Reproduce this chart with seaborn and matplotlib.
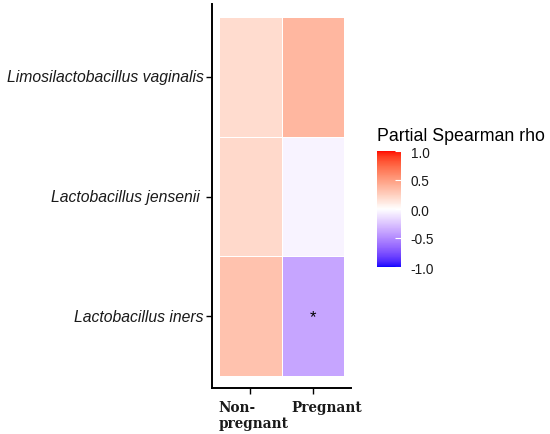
import numpy as np
import pandas as pd
import matplotlib
matplotlib.use('Agg')
import matplotlib.pyplot as plt
import matplotlib.transforms as mtransforms
from matplotlib.colors import ListedColormap
from matplotlib.ticker import FormatStrFormatter
import seaborn as sns

plt.rcParams['font.family'] = ['Liberation Sans', 'DejaVu Sans']
plt.rcParams['axes.unicode_minus'] = False

# data
species = ['Limosilactobacillus vaginalis', 'Lactobacillus jensenii ', 'Lactobacillus iners']
groups = ['Non-\npregnant', 'Pregnant']
rho_nonpregnant = [0.18, 0.20, 0.32]
rho_pregnant = [0.37, -0.05, -0.39]
sig_nonpregnant = ['', '', '']
sig_pregnant = ['', '', '*']
cbar_ticks = [-1.0, -0.5, 0.0, 0.5, 1.0]

df = pd.DataFrame({groups[0]: rho_nonpregnant, groups[1]: rho_pregnant}, index=species)
stars = pd.DataFrame({groups[0]: sig_nonpregnant, groups[1]: sig_pregnant}, index=species)


# blue - white - red gradient interpolated in CIELAB (like ggplot's gradient2)
def srgb_to_lab(rgb):
    rgb = np.asarray(rgb, dtype=float)
    lin = np.where(rgb <= 0.04045, rgb / 12.92, ((rgb + 0.055) / 1.055) ** 2.4)
    m = np.array([[0.4124, 0.3576, 0.1805],
                  [0.2126, 0.7152, 0.0722],
                  [0.0193, 0.1192, 0.9505]])
    xyz = m @ lin / np.array([0.95047, 1.0, 1.08883])
    f = np.where(xyz > 0.008856, np.cbrt(xyz), 7.787 * xyz + 16 / 116)
    return np.array([116 * f[1] - 16, 500 * (f[0] - f[1]), 200 * (f[1] - f[2])])


def lab_to_srgb(lab):
    L, a, b = lab
    fy = (L + 16) / 116
    fx = fy + a / 500
    fz = fy - b / 200
    f = np.array([fx, fy, fz])
    xyz = np.where(f ** 3 > 0.008856, f ** 3, (f - 16 / 116) / 7.787)
    xyz = xyz * np.array([0.95047, 1.0, 1.08883])
    m_inv = np.array([[3.2406, -1.5372, -0.4986],
                      [-0.9689, 1.8758, 0.0415],
                      [0.0557, -0.2040, 1.0570]])
    lin = np.clip(m_inv @ xyz, 0, 1)
    rgb = np.where(lin <= 0.0031308, 12.92 * lin, 1.055 * lin ** (1 / 2.4) - 0.055)
    return np.clip(rgb, 0, 1)


lab_blue = srgb_to_lab([0, 0, 1])
lab_white = srgb_to_lab([1, 1, 1])
lab_red = srgb_to_lab([1, 0, 0])
colors = []
for v in np.linspace(-1, 1, 256):
    end = lab_blue if v < 0 else lab_red
    colors.append(lab_to_srgb(lab_white + abs(v) * (end - lab_white)))
cmap = ListedColormap(colors)

fig = plt.figure(figsize=(5.5, 4.35), dpi=100)
ax = fig.add_axes([212 / 550, 1 - 389 / 435, 139 / 550, 384 / 435])
cax = fig.add_axes([377 / 550, 1 - 268 / 435, 24 / 550, 116 / 435])

sns.heatmap(df, ax=ax, cbar_ax=cax, cmap=cmap, vmin=-1, vmax=1,
            linewidths=0.6, linecolor='white',
            annot=stars.values, fmt='',
            annot_kws={'fontsize': 12, 'color': 'black'},
            cbar_kws={'ticks': cbar_ticks})

ax.set_xlim(-0.112, 2.112)
ax.set_ylim(3.1, -0.109)
ax.set_xlabel('')
ax.set_ylabel('')
for s in ['left', 'bottom']:
    ax.spines[s].set_visible(True)
    ax.spines[s].set_linewidth(1.4)
    ax.spines[s].set_color('black')
for s in ['top', 'right']:
    ax.spines[s].set_visible(False)

ax.tick_params(axis='y', length=4, width=1, color='black', pad=2)
ax.tick_params(axis='x', length=4, width=1, color='black', pad=5)
ax.set_yticklabels(species, rotation=0, fontstyle='italic', fontsize=11.3, color='#1a1a1a')
ax.set_xticklabels(groups, rotation=0, fontfamily='DejaVu Serif', fontweight='bold',
                   fontsize=9.8, multialignment='left', color='#1a1a1a', linespacing=1.15)
shifts = [3, 14]
for lab, dx in zip(ax.get_xticklabels(), shifts):
    lab.set_transform(lab.get_transform() + mtransforms.ScaledTranslation(dx / 100, 0, fig.dpi_scale_trans))

cbar = ax.collections[0].colorbar
cbar.outline.set_visible(False)
cbar.ax.yaxis.set_major_formatter(FormatStrFormatter('%.1f'))
cbar.ax.tick_params(length=4, width=0.8, color='white', direction='in', pad=7,
                    labelsize=9.8, labelcolor='#1a1a1a')

fig.text(377 / 550, 1 - 141 / 435, 'Partial Spearman rho', ha='left', va='baseline',
         fontsize=12.8, color='black')

fig.savefig('out.png', dpi=100)
